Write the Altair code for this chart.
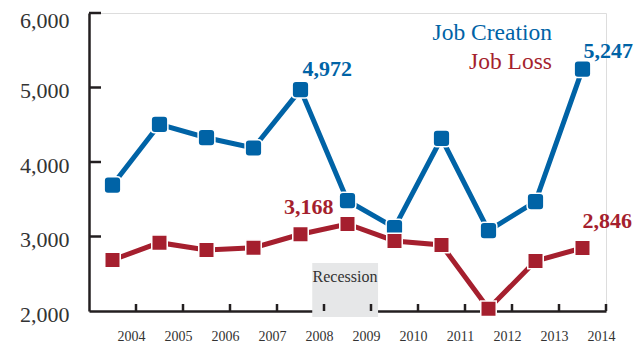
import altair as alt
import pandas as pd

years = [2004, 2005, 2006, 2007, 2008, 2009, 2010, 2011, 2012, 2013, 2014]
job_creation = [3690, 4506, 4326, 4188, 4972, 3480, 3120, 4318, 3078, 3467, 5247]
job_loss = [2685, 2917, 2819, 2850, 3030, 3168, 2940, 2886, 2030, 2671, 2846]
y_ticks = [2000, 3000, 4000, 5000, 6000]
recession = {"start": 4.75, "end": 6.15, "top": 2644, "label": "Recession"}

BLUE = "#0063a6"
RED = "#a51f2e"
FONT = "Liberation Serif"

rows = []
for i, y in enumerate(years):
    rows.append({"series": "Job Creation", "pos": i + 0.5, "year": y, "value": job_creation[i]})
    rows.append({"series": "Job Loss", "pos": i + 0.5, "year": y, "value": job_loss[i]})
df = pd.DataFrame(rows)

xscale = alt.Scale(domain=[0, len(years)], nice=False, zero=False)
yscale = alt.Scale(domain=[2000, 6000], nice=False, zero=False)
color = alt.Scale(domain=["Job Creation", "Job Loss"], range=[BLUE, RED])

W, H = 517, 298

base = alt.Chart(df)

rec_df = pd.DataFrame([recession])
rect = alt.Chart(rec_df).mark_rect(color="#e6e7e8").encode(
    x=alt.X("start:Q", scale=xscale,
            axis=alt.Axis(values=list(range(1, len(years) + 1)),
                          labelExpr="datum.value + 2003", title=None, ticks=False,
                          grid=False, labelFont=FONT, labelFontSize=14, labelColor="#333",
                          labelPadding=18, labelOffset=-5, labelFlush=False,
                          labelOverlap=False, domainColor="#231f20", domainWidth=2.5)),
    x2="end:Q",
    y=alt.Y("top:Q", scale=yscale,
            axis=alt.Axis(values=y_ticks, format=",d", title=None, ticks=False, grid=False,
                          labelFont=FONT, labelFontSize=22, labelColor="#333",
                          labelPadding=20, labelFlush=False, labelOverlap=False,
                          labelBaseline={"condition": {"test": "datum.value == 6000", "value": "top"},
                                         "value": "middle"},
                          labelOffset={"condition": {"test": "datum.value == 6000", "value": -3},
                                       "value": 3},
                          domainColor="#231f20", domainWidth=2.5)),
    y2=alt.value(304),
)
rec_text = alt.Chart(rec_df).mark_text(font=FONT, fontSize=16, color="#333").encode(
    x=alt.value(256), y=alt.value(264), text="label:N"
)

xt_df = pd.DataFrame({"t": list(range(1, len(years) + 1))})
xticks = alt.Chart(xt_df).mark_rule(color="#231f20", strokeWidth=2.5).encode(
    x=alt.X("t:Q", scale=xscale), y=alt.value(H), y2=alt.value(H - 7)
)
yt_df = pd.DataFrame({"v": y_ticks[1:]})
yticks = alt.Chart(yt_df).mark_rule(color="#231f20", strokeWidth=2.5).encode(
    y=alt.Y("v:Q", scale=yscale), x=alt.value(0), x2=alt.value(12)
)

lines = base.mark_line(strokeWidth=5).encode(
    x=alt.X("pos:Q", scale=xscale),
    y=alt.Y("value:Q", scale=yscale),
    color=alt.Color("series:N", scale=color, legend=None),
)

rounded = "M -1 -0.55 Q -1 -1 -0.55 -1 L 0.55 -1 Q 1 -1 1 -0.55 L 1 0.55 Q 1 1 0.55 1 L -0.55 1 Q -1 1 -1 0.55 Z"
pts_c = base.transform_filter(alt.datum.series == "Job Creation").mark_point(
    shape=rounded, filled=True, size=280, color=BLUE, stroke="white", strokeWidth=1.5, opacity=1
).encode(x=alt.X("pos:Q", scale=xscale), y=alt.Y("value:Q", scale=yscale))
pts_l = base.transform_filter(alt.datum.series == "Job Loss").mark_point(
    shape="square", filled=True, size=240, color=RED, stroke="white", strokeWidth=1.5, opacity=1
).encode(x=alt.X("pos:Q", scale=xscale), y=alt.Y("value:Q", scale=yscale))


def vlabel(series, year, color_, align, dx, dy):
    return base.transform_filter(
        (alt.datum.series == series) & (alt.datum.year == year)
    ).mark_text(font=FONT, fontSize=22, fontWeight="bold", color=color_, align=align,
                baseline="middle", dx=dx, dy=dy).encode(
        x=alt.X("pos:Q", scale=xscale), y=alt.Y("value:Q", scale=yscale),
        text=alt.Text("value:Q", format=",d")
    )


labels = [
    vlabel("Job Creation", 2008, BLUE, "left", 2, -21),
    vlabel("Job Loss", 2009, RED, "right", -14, -17),
    vlabel("Job Creation", 2014, BLUE, "left", 1, -18),
    vlabel("Job Loss", 2014, RED, "left", 0, -27),
]

leg_df = pd.DataFrame({"name": ["Job Creation", "Job Loss"], "py": [20, 49]})
legend = alt.Chart(leg_df).mark_text(font=FONT, fontSize=23.5, align="right", baseline="middle").encode(
    x=alt.value(463), y=alt.Y("py:Q", scale=None), text="name:N",
    color=alt.Color("name:N", scale=color, legend=None),
)

chart = alt.layer(rect, rec_text, xticks, yticks, lines, pts_c, pts_l, *labels, legend).properties(
    width=W, height=H,
    autosize=alt.AutoSizeParams(type="none"),
    padding={"left": 81, "top": 5, "right": 29, "bottom": 31},
).configure_view(stroke=None).configure(background="white")

chart.save("out.html", embed_options={"renderer": "svg", "actions": False})
